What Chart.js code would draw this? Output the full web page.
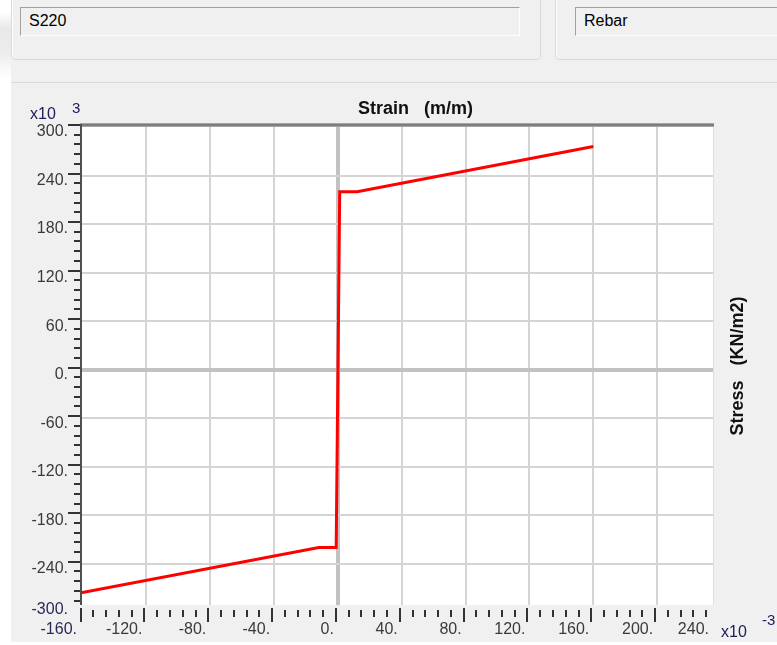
<!DOCTYPE html>
<html>
<head>
<meta charset="utf-8">
<title>S220 Rebar - Stress / Strain</title>
<script src="https://cdn.jsdelivr.net/npm/chart.js@4.4.0/dist/chart.umd.min.js"></script>
<style>
    body {
        margin: 0;
        width: 777px;
        height: 645px;
        background: #ffffff;
        position: relative;
        overflow: hidden;
        font-family: 'Liberation Sans', Arial, sans-serif;
    }
    .abs { position: absolute; }
    .strip {
        left: 0; top: 0; width: 11px; height: 645px;
        background: linear-gradient(to bottom, #ffffff 0px, #ffffff 12px, #e9e9e9 28px, #ececec 52px, #ffffff 78px);
    }
    .panel { left: 11px; top: 0; width: 766px; height: 642px; background: #f0f0f0; }
    .grp {
        top: -10px; height: 68px;
        border: 1px solid #d5dbe1;
        border-radius: 4px;
        box-shadow: inset 1px 1px 0 #ffffff;
    }
    .rule { left: 11px; top: 82px; width: 766px; height: 0; border-top: 1px solid #d5dbe1; }
    .tb {
        top: 7px; height: 29px;
        box-sizing: border-box;
        border-top: 1px solid #a0a0a0;
        border-left: 1px solid #a0a0a0;
        border-right: 1px solid #ffffff;
        border-bottom: 1px solid #ffffff;
        background: #f0f0f0;
        font-size: 16px;
        line-height: 26px;
        padding-left: 8px;
        color: #000000;
    }
    .title { font-weight: bold; font-size: 18px; line-height: 18px; color: #111111; white-space: pre; }
    .mult { font-size: 16px; line-height: 16px; color: #20205a; }
    .exp { font-size: 15px; line-height: 15px; color: #20205a; }
</style>
</head>
<body>
<div class="abs strip"></div>
<div class="abs panel"></div>
<div class="abs grp" style="left:11px; width:528px;"></div>
<div class="abs grp" style="left:555px; width:240px;"></div>
<div class="abs rule"></div>
<div class="abs tb" style="left:20px; width:500px;">S220</div>
<div class="abs tb" style="left:575px; width:215px;">Rebar</div>

<canvas id="strainChart" width="766" height="558" style="position:absolute; left:11px; top:84px;"></canvas>

<div class="abs mult" style="left:30px; top:106px;">x10</div>
<div class="abs exp" style="left:72px; top:100px;">3</div>
<div class="abs title" style="left:358px; top:99px;">Strain   (m/m)</div>
<div class="abs title" style="left:737px; top:366px; transform: translate(-50%, -50%) rotate(-90deg);">Stress   (KN/m2)</div>
<div class="abs mult" style="left:721px; top:624px;">x10</div>
<div class="abs exp" style="left:762px; top:612px;">-3</div>

<script>
// Rebar S220 curve (strain x10^-3 m/m, stress x10^3 KN/m2)
const strain = [-161, -12, -1.1, 1.1, 12, 160];
const stress = [-276, -220, -220, 220, 220, 276];

// axis ticks, first and last are the plot edges
const xTicks = [-161, -120, -80, -40, 0, 40, 80, 120, 160, 200, 235];
const xTickLabels = ['-160.', '-120.', '-80.', '-40.', '0.', '40.', '80.', '120.', '160.', '200.', '240.'];
const yTicks = [-291, -240, -180, -120, -60, 0, 60, 120, 180, 240, 300];
const yTickLabels = ['-300.', '-240.', '-180.', '-120.', '-60.', '0.', '60.', '120.', '180.', '240.', '300.'];

const tickFont = { family: "'Liberation Sans', Arial, sans-serif", size: 16 };

function gridColor(ctx, edges) {
    if (!ctx.tick || edges.includes(ctx.tick.value)) return 'rgba(0,0,0,0)';
    return ctx.tick.value === 0 ? '#c2c2c2' : '#d4d4d4';
}
function gridWidth(ctx) {
    return ctx.tick && ctx.tick.value === 0 ? 4 : 2;
}

// white plot area, frame and the small axis tick marks
const plotFrame = {
    id: 'plotFrame',
    beforeDraw(chart) {
        const { ctx, chartArea: a } = chart;
        ctx.save();
        ctx.fillStyle = '#ffffff';
        ctx.fillRect(a.left, a.top, a.right - a.left, a.bottom - a.top);
        ctx.restore();
    },
    beforeDatasetsDraw(chart) {
        const { ctx, chartArea: a, scales: { x, y } } = chart;
        ctx.save();
        ctx.fillStyle = '#a4a4a4';
        ctx.fillRect(a.left - 1, a.top - 4, a.right - a.left + 2, 4);
        ctx.fillStyle = '#7e7e7e';
        ctx.fillRect(a.left - 1, a.top - 3, a.right - a.left + 2, 2);
        ctx.fillStyle = '#dedede';
        ctx.fillRect(a.right, a.top, 1, a.bottom - a.top);
        ctx.fillStyle = '#505050';
        ctx.fillRect(a.left - 1, a.top - 3, 2, a.bottom - a.top + 3);

        ctx.fillStyle = '#333333';
        for (let v = -300; v <= 300; v += 12) {
            if (v < y.min || v > y.max) continue;
            const py = Math.round(y.getPixelForValue(v)) - 3;
            const len = v % 60 === 0 ? 12 : 6;
            ctx.fillRect(a.left - 1 - len, py, len, 2);
        }
        for (let v = -160; v <= 240; v += 8) {
            if (v < x.min || v > x.max) continue;
            const px = Math.round(x.getPixelForValue(v)) - 3;
            const major = v % 40 === 0;
            ctx.fillRect(px, a.bottom + (major ? 3 : 5), 2, major ? 14 : 7);
        }
        ctx.restore();
    }
};

const ctxLine = document.getElementById('strainChart');
window.strainChart = new Chart(ctxLine, {
    type: 'line',
    data: {
        datasets: [{
            data: strain.map((v, i) => ({ x: v, y: stress[i] })),
            borderColor: '#ff0000',
            borderWidth: 3,
            pointRadius: 0,
            tension: 0,
            fill: false
        }]
    },
    options: {
        responsive: false,
        animation: false,
        devicePixelRatio: 1,
        layout: { padding: { left: 0, top: 43, right: 64, bottom: 0 } },
        plugins: {
            legend: { display: false },
            tooltip: { enabled: false }
        },
        scales: {
            x: {
                type: 'linear',
                min: xTicks[0],
                max: xTicks[xTicks.length - 1],
                afterBuildTicks: s => { s.ticks = xTicks.map(v => ({ value: v })); },
                afterFit: s => { s.height = 37; },
                border: { display: false },
                grid: {
                    drawTicks: false,
                    color: ctx => gridColor(ctx, [xTicks[0], xTicks[xTicks.length - 1]]),
                    lineWidth: gridWidth
                },
                ticks: {
                    autoSkip: false,
                    maxRotation: 0,
                    align: 'end',
                    labelOffset: -4,
                    padding: 15,
                    font: tickFont,
                    color: ctx => ctx.index === 0 ? '#2a2a58' : '#3a3a3a',
                    callback: (v, i) => xTickLabels[i]
                }
            },
            y: {
                type: 'linear',
                min: yTicks[0],
                max: yTicks[yTicks.length - 1],
                afterBuildTicks: s => { s.ticks = yTicks.map(v => ({ value: v })); },
                afterFit: s => { s.width = 70; },
                border: { display: false },
                grid: {
                    drawTicks: false,
                    color: ctx => gridColor(ctx, [yTicks[0], yTicks[yTicks.length - 1]]),
                    lineWidth: gridWidth
                },
                ticks: {
                    autoSkip: false,
                    padding: 13,
                    labelOffset: 5,
                    font: tickFont,
                    color: ctx => ctx.index === 0 ? '#2a2a58' : '#3a3a3a',
                    callback: (v, i) => yTickLabels[i]
                }
            }
        }
    },
    plugins: [plotFrame]
});
</script>
</body>
</html>
